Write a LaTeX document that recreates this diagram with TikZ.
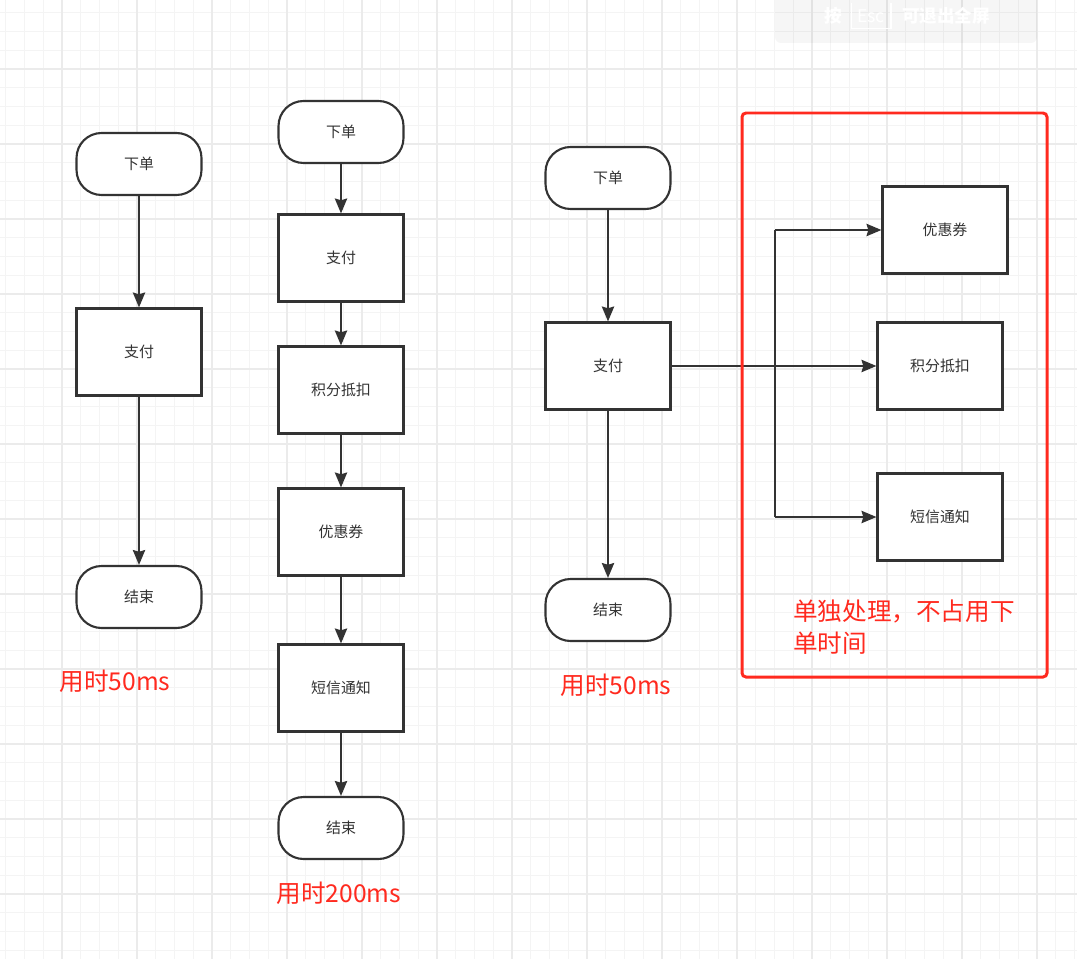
\documentclass[tikz,border=0pt]{standalone}
\usepackage{fontspec}
\setmainfont{Noto Sans CJK SC}
\usepackage{xcolor}
\usetikzlibrary{arrows.meta,positioning}

\definecolor{inkgray}{HTML}{333333}
\definecolor{markred}{HTML}{FF2A1F}
\definecolor{gridminor}{HTML}{F4F4F4}
\definecolor{gridmajor}{HTML}{EBEBEB}

\tikzset{
  terminal/.style={draw=inkgray, line width=1.2pt, rounded corners=0.5cm, fill=white,
    minimum width=2.5cm, minimum height=1.24cm, text=inkgray, font=\fontsize{8.5}{10}\selectfont},
  process/.style={draw=inkgray, line width=1.2pt, fill=white,
    minimum width=2.5cm, minimum height=1.74cm, text=inkgray, font=\fontsize{8.5}{10}\selectfont},
  flow/.style={-{Stealth[length=8.5pt,width=7pt,inset=1pt]}, draw=inkgray, line width=1.1pt},
  costnote/.style={text=markred, font=\fontsize{14}{18}\selectfont, align=left},
}

\begin{document}
\begin{tikzpicture}[x=0.02cm, y=-0.02cm]
\useasboundingbox (0,0) rectangle (1077,959);

% background grid
\foreach \i in {0,...,57} {\draw[gridminor, line width=0.6pt] ({5.75+18.75*\i},0) -- ({5.75+18.75*\i},959);}
\foreach \j in {0,...,50} {\draw[gridminor, line width=0.6pt] (0,{12.75+18.75*\j}) -- (1077,{12.75+18.75*\j});}
\foreach \i in {0,...,13} {\draw[gridmajor, line width=0.6pt] ({62+75*\i},0) -- ({62+75*\i},959);}
\foreach \j in {0,...,11} {\draw[gridmajor, line width=0.6pt] (0,{69+75*\j}) -- (1077,{69+75*\j});}

% fullscreen hint
\fill[black, opacity=0.035, rounded corners=0.12cm] (775,-10) rectangle (1037,43);
\node[text=white, font=\bfseries\fontsize{10}{12}\selectfont] (hintkey) at (833,16) {按};
\node[text=white, font=\fontsize{10}{12}\selectfont, minimum width=0.76cm] (hintesc) at (871,16) {Esc};
\draw[white, line width=0.6pt] (hintesc.north west) -- (hintesc.south west) -- (hintesc.south east) -- (hintesc.north east);
\node[text=white, font=\bfseries\fontsize{10}{12}\selectfont] (hintexit) at (946,16) {可退出全屏};

% serial, short
\node[terminal] (order1) at (139,164) {下单};
\node[process] (pay1) at (139,352) {支付};
\node[terminal] (end1) at (139,597) {结束};
\draw[flow] (order1) -- (pay1);
\draw[flow] (pay1) -- (end1);
\node[costnote] (cost1) at (115,681) {用时50ms};

% serial, full
\node[terminal] (order2) at (341,132) {下单};
\node[process] (pay2) at (341,258) {支付};
\node[process] (score2) at (341,390) {积分抵扣};
\node[process] (coupon2) at (341,532) {优惠券};
\node[process] (sms2) at (341,688) {短信通知};
\node[terminal] (end2) at (341,828) {结束};
\draw[flow] (order2) -- (pay2);
\draw[flow] (pay2) -- (score2);
\draw[flow] (score2) -- (coupon2);
\draw[flow] (coupon2) -- (sms2);
\draw[flow] (sms2) -- (end2);
\node[costnote] (cost2) at (339,893) {用时200ms};

% async
\node[terminal] (order3) at (608,178) {下单};
\node[process] (pay3) at (608,366) {支付};
\node[terminal] (end3) at (608,610) {结束};
\draw[flow] (order3) -- (pay3);
\draw[flow] (pay3) -- (end3);
\node[costnote] (cost3) at (616,685) {用时50ms};

\node[process] (coupon3) at (945,230) {优惠券};
\node[process] (score3) at (940,366) {积分抵扣};
\node[process] (sms3) at (940,517) {短信通知};
\coordinate (split) at (775,366);
\draw[flow] (pay3) -- (score3);
\draw[draw=inkgray, line width=1.1pt] (split |- coupon3.west) -- (split |- sms3.west);
\draw[flow] (split |- coupon3.west) -- (coupon3.west);
\draw[flow] (split |- sms3.west) -- (sms3.west);

\draw[markred, line width=1.7pt, rounded corners=0.08cm] (742,113) rectangle (1047,677);
\node[costnote, anchor=north west] (asyncnote) at (787,594) {单独处理，不占用下\\单时间};
\end{tikzpicture}
\end{document}
